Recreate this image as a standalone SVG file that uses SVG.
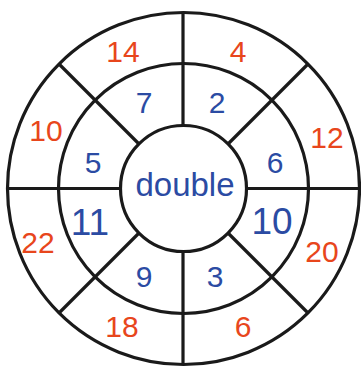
<svg xmlns="http://www.w3.org/2000/svg" width="361" height="367" viewBox="0 0 361 367">
<style>
.ring{fill:none;stroke:#1a1a1a;stroke-width:3.2}
.ln{stroke:#1a1a1a;stroke-width:3.2;stroke-linecap:butt}
.r{fill:#e8461c;font-family:"Liberation Sans",Arial,sans-serif;font-size:30px;text-anchor:middle}
.b{fill:#2b4ba3;font-family:"Liberation Sans",Arial,sans-serif;font-size:30px;text-anchor:middle}
.big{font-size:37px}
</style>
<rect width="361" height="367" fill="#ffffff"/>
<g id="outer-ring"><circle class="ring" cx="183.5" cy="188.5" r="176"/></g>
<g id="middle-ring"><circle class="ring" cx="183.5" cy="188.5" r="125"/></g>
<g id="center"><circle class="ring" cx="183.5" cy="188.5" r="63"/>
<text class="b" x="185" y="196" style="font-size:33px">double</text></g>
<g id="connectors">
<line class="ln" x1="183" y1="12.5" x2="183" y2="125.5"/>
<line class="ln" x1="183" y1="251.5" x2="183" y2="364.5"/>
<line class="ln" x1="7.5" y1="188.5" x2="120.5" y2="188.5"/>
<line class="ln" x1="246.5" y1="188.5" x2="359.5" y2="188.5"/>
<line class="ln" x1="139" y1="144" x2="59" y2="64"/>
<line class="ln" x1="228" y1="144" x2="308" y2="64"/>
<line class="ln" x1="139" y1="233" x2="59" y2="313"/>
<line class="ln" x1="228" y1="233" x2="308" y2="313"/>
</g>
<g id="inner-numbers">
<text class="b" x="144" y="113">7</text>
<text class="b" x="217" y="113">2</text>
<text class="b" x="93" y="173">5</text>
<text class="b" x="275" y="173">6</text>
<text class="b big" x="90" y="235">11</text>
<text class="b big" x="272" y="234">10</text>
<text class="b" x="144" y="287">9</text>
<text class="b" x="215" y="287">3</text>
</g>
<g id="outer-numbers">
<text class="r" x="123" y="62">14</text>
<text class="r" x="238" y="62">4</text>
<text class="r" x="46" y="141">10</text>
<text class="r" x="327" y="148">12</text>
<text class="r" x="38" y="253">22</text>
<text class="r" x="322" y="262">20</text>
<text class="r" x="122" y="337">18</text>
<text class="r" x="243" y="337">6</text>
</g>
</svg>
